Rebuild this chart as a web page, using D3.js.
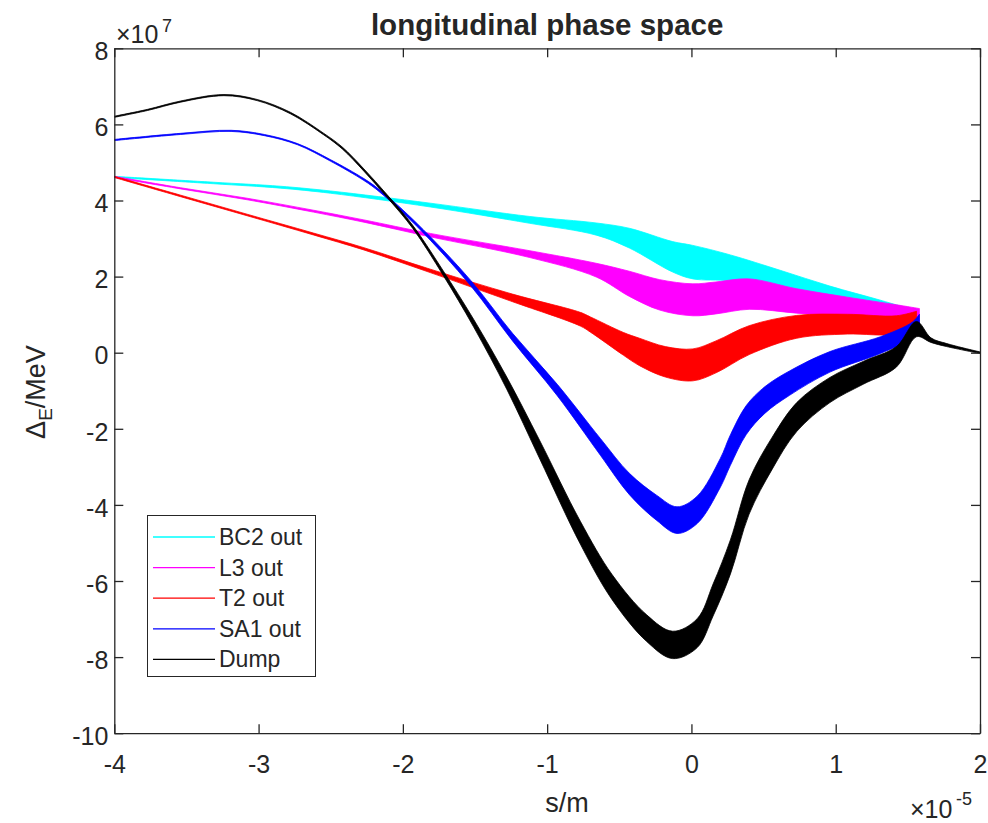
<!DOCTYPE html>
<html>
<head>
<meta charset="utf-8">
<script src="https://cdn.jsdelivr.net/npm/d3@7"></script>
<style>
  body { margin: 0; background: #fff; }
  svg text { font-family: "Liberation Sans", Arial, sans-serif; fill: #262626; }
</style>
</head>
<body>
<svg id="chart" width="988" height="823"></svg>
<script>

// longitudinal phase space
// s in units of 1e-5 m, dE in units of 1e7, w = half spread of the band in dE

const bc2S = [-4.00,-3.31,-2.85,-2.50,-1.81,-1.12,-0.66,-0.43,-0.13,0.01,0.27,0.62,0.96,1.31,1.54];
const bc2E = [4.62,4.46,4.35,4.22,3.88,3.49,3.25,3.01,2.52,2.38,2.23,1.91,1.57,1.23,0.99];
const bc2W = [0.015,0.02,0.025,0.03,0.05,0.09,0.16,0.26,0.4,0.44,0.34,0.25,0.18,0.15,0.13];

const l3S = [-4.00,-3.54,-3.08,-2.62,-2.27,-1.81,-1.12,-0.66,-0.43,-0.22,0.01,0.17,0.40,0.73,1.08,1.42,1.58];
const l3E = [4.62,4.32,4.04,3.72,3.46,3.09,2.59,2.17,1.81,1.52,1.39,1.44,1.54,1.36,1.20,1.04,0.96];
const l3W = [0.015,0.015,0.02,0.025,0.03,0.045,0.09,0.18,0.33,0.4,0.42,0.42,0.4,0.32,0.26,0.22,0.2];

const t2S = [-4.00,-3.54,-3.08,-2.62,-2.27,-1.81,-1.24,-0.77,-0.70,-0.47,-0.36,-0.18,0.01,0.17,0.40,0.73,1.08,1.42,1.56];
const t2E = [4.62,4.12,3.62,3.12,2.73,2.15,1.44,0.88,0.74,0.23,0.02,-0.24,-0.32,-0.11,0.33,0.68,0.75,0.73,0.91];
const t2W = [0.015,0.02,0.02,0.025,0.03,0.045,0.1,0.18,0.2,0.3,0.36,0.4,0.42,0.42,0.38,0.3,0.26,0.24,0.18];

const sa1S = [-4.00,-3.54,-3.19,-2.96,-2.73,-2.50,-2.27,-2.16,-1.90,-1.53,-1.24,-0.93,-0.63,-0.43,-0.24,-0.10,0.04,0.20,0.27,0.38,0.51,0.68,0.96,1.31,1.53,1.58];
const sa1E = [5.59,5.75,5.83,5.72,5.48,5.05,4.55,4.25,3.35,1.83,0.41,-0.98,-2.48,-3.45,-4.08,-4.40,-4.13,-3.16,-2.56,-1.77,-1.24,-0.80,-0.24,0.20,0.60,0.86];
const sa1W = [0.015,0.015,0.015,0.015,0.015,0.02,0.025,0.03,0.04,0.07,0.1,0.15,0.22,0.28,0.33,0.35,0.36,0.38,0.4,0.38,0.35,0.32,0.27,0.22,0.2,0.15];

const dumpS = [-4.00,-3.77,-3.54,-3.24,-3.01,-2.78,-2.55,-2.42,-2.27,-2.11,-1.93,-1.72,-1.51,-1.28,-1.05,-0.77,-0.55,-0.31,-0.13,0.04,0.15,0.27,0.40,0.56,0.73,0.96,1.19,1.42,1.56,1.66,1.77,2.00];
const dumpE = [6.20,6.38,6.60,6.77,6.64,6.30,5.75,5.38,4.80,4.12,3.30,2.09,0.78,-0.80,-2.56,-4.73,-6.16,-7.24,-7.68,-7.37,-6.50,-5.37,-3.79,-2.64,-1.69,-0.98,-0.53,-0.11,0.62,0.33,0.20,0.00];
const dumpW = [0.015,0.015,0.015,0.015,0.015,0.02,0.02,0.025,0.03,0.035,0.04,0.06,0.1,0.16,0.24,0.3,0.33,0.35,0.36,0.38,0.42,0.45,0.45,0.42,0.38,0.33,0.3,0.27,0.2,0.06,0.04,0.02];

const seriesNames = ['BC2 out', 'L3 out', 'T2 out', 'SA1 out', 'Dump'];
const seriesColors = ['#00ffff', '#ff00ff', '#ff0000', '#0000ff', '#000000'];

const xTicks = [-4, -3, -2, -1, 0, 1, 2];
const yTicks = [-10, -8, -6, -4, -2, 0, 2, 4, 6, 8];

// helpers

function zipSeries(s, e, w) {
  return s.map((d, i) => ({ s: d, e: e[i], w: w[i] }));
}

const series = [
  zipSeries(bc2S, bc2E, bc2W),
  zipSeries(l3S, l3E, l3W),
  zipSeries(t2S, t2E, t2W),
  zipSeries(sa1S, sa1E, sa1W),
  zipSeries(dumpS, dumpE, dumpW)
];

/*************************************************************/

const svg = d3.select('#chart');
const axisColor = '#262626';

const x = d3.scaleLinear().domain([-4, 2]).range([114.3, 980]);
const y = d3.scaleLinear().domain([-10, 8]).range([733.2, 48.3]);

svg.append('rect')
  .attr('width', 988).attr('height', 823)
  .attr('fill', '#fff');

svg.append('clipPath').attr('id', 'plotClip')
  .append('rect')
  .attr('x', x(-4)).attr('y', y(8))
  .attr('width', x(2) - x(-4)).attr('height', y(-10) - y(8));

// bands of particles, drawn in the order the picture stacks them
const band = d3.area()
  .x(d => x(d.s))
  .y0(d => y(d.e - d.w))
  .y1(d => y(d.e + d.w))
  .curve(d3.curveCatmullRom.alpha(0.5));

const plot = svg.append('g').attr('clip-path', 'url(#plotClip)');

series.forEach((data, i) => {
  plot.append('path')
    .datum(data)
    .attr('d', band)
    .attr('fill', seriesColors[i])
    .attr('stroke', seriesColors[i])
    .attr('stroke-width', 0.8)
    .attr('stroke-linejoin', 'round');
});

// axes, MATLAB style box with inward ticks
const plain = d => String(d);

function styleAxis(g) {
  g.select('.domain').attr('stroke', axisColor).attr('stroke-width', 1.3).attr('fill', 'none');
  g.selectAll('.tick line').attr('stroke', axisColor).attr('stroke-width', 1.3);
  g.selectAll('.tick text')
    .attr('fill', axisColor)
    .style('font-size', '25px');
}

svg.append('g')
  .attr('transform', `translate(0,${y(-10)})`)
  .call(d3.axisBottom(x).tickValues(xTicks).tickFormat(plain).tickSizeInner(-9).tickSizeOuter(0).tickPadding(22))
  .call(styleAxis);

svg.append('g')
  .attr('transform', `translate(0,${y(8)})`)
  .call(d3.axisTop(x).tickValues(xTicks).tickSizeInner(-9).tickSizeOuter(0).tickFormat(''))
  .call(styleAxis);

svg.append('g')
  .attr('transform', `translate(${x(-4)},0)`)
  .call(d3.axisLeft(y).tickValues(yTicks).tickFormat(plain).tickSizeInner(-9).tickSizeOuter(0).tickPadding(6))
  .call(styleAxis)
  .selectAll('.tick text').attr('dy', '0.45em');

svg.append('g')
  .attr('transform', `translate(${x(2)},0)`)
  .call(d3.axisRight(y).tickValues(yTicks).tickSizeInner(-9).tickSizeOuter(0).tickFormat(''))
  .call(styleAxis);

// title and labels
svg.append('text')
  .attr('x', (x(-4) + x(2)) / 2).attr('y', 35)
  .attr('text-anchor', 'middle')
  .style('font-size', '29.5px').style('font-weight', 'bold')
  .attr('fill', '#000')
  .text('longitudinal phase space');

svg.append('text')
  .attr('x', 567).attr('y', 812)
  .attr('text-anchor', 'middle')
  .style('font-size', '27px')
  .text('s/m');

const ylab = svg.append('text')
  .attr('transform', 'translate(45,392) rotate(-90)')
  .attr('text-anchor', 'middle')
  .style('font-size', '27px');
ylab.append('tspan').text('Δ');
ylab.append('tspan').attr('dy', 7).style('font-size', '19px').text('E');
ylab.append('tspan').attr('dy', -7).text('/MeV');

// exponent labels
svg.append('text').attr('x', 116).attr('y', 43).style('font-size', '25px').text('×10');
svg.append('text').attr('x', 162).attr('y', 32).style('font-size', '18px').text('7');

svg.append('text').attr('x', 910).attr('y', 818).style('font-size', '25px').text('×10');
svg.append('text').attr('x', 956).attr('y', 805).style('font-size', '18px').text('-5');

// legend
const legend = svg.append('g');
legend.append('rect')
  .attr('x', 147.5).attr('y', 515.5)
  .attr('width', 168).attr('height', 161)
  .attr('fill', '#fff')
  .attr('stroke', axisColor).attr('stroke-width', 1);

seriesNames.forEach((name, i) => {
  const ly = 537 + i * 30.6;
  legend.append('line')
    .attr('x1', 153).attr('x2', 215)
    .attr('y1', ly).attr('y2', ly)
    .attr('stroke', seriesColors[i]).attr('stroke-width', 1.3);
  legend.append('text')
    .attr('x', 219).attr('y', ly + 8)
    .style('font-size', '23px')
    .attr('fill', '#000')
    .text(name);
});

</script>
</body>
</html>
